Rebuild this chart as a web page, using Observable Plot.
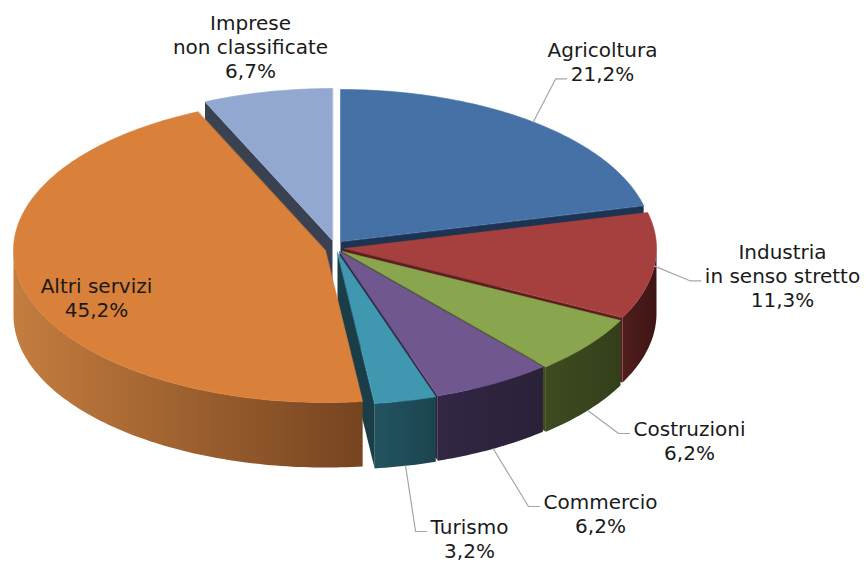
<!DOCTYPE html>
<html>
<head>
<meta charset="utf-8">
<script src="https://cdn.jsdelivr.net/npm/d3@7"></script>
<script src="https://cdn.jsdelivr.net/npm/@observablehq/plot@0.6"></script>
<style>
  html, body { margin: 0; padding: 0; background: #ffffff; }
  #chart { width: 867px; height: 563px; }
</style>
</head>
<body>
<div id="chart"></div>
<script>
// ---------------- DATA ----------------
const categories = ["Agricoltura", "Industria in senso stretto", "Costruzioni", "Commercio", "Turismo", "Altri servizi", "Imprese non classificate"];
const labelLines = [["Agricoltura"], ["Industria", "in senso stretto"], ["Costruzioni"], ["Commercio"], ["Turismo"], ["Altri servizi"], ["Imprese", "non classificate"]];
const shares = [21.2, 11.3, 6.2, 6.2, 3.2, 45.2, 6.7];
const valueLabels = ["21,2%", "11,3%", "6,2%", "6,2%", "3,2%", "45,2%", "6,7%"];

// ---------------- STYLE / LAYOUT ----------------
const topColors  = ["#4571a7", "#a6403e", "#89a54d", "#705790", "#3f97b0", "#d9803b", "#93a8d0"];
const sideColors = [["#2a4a78", "#1f3a60"], ["#4f1d1c", "#3e1615"], ["#3e4b20", "#333f1a"], ["#322744", "#2a2139"], ["#225460", "#1b4450"], ["#c47d3f", "#764420"], ["#4a5670", "#3a4458"]];
const wallColors = ["#1c3352", "#5a1f1d", "#3d4c1f", "#2f2442", "#1a3d48", "#8a5026", "#3a4151"];

const W = 867, H = 563;
const CX = 340, CY = 252, RX = 312, RY = 152, DEPTH = 65;
const explodeOffset = [[0, -11], [4, -4], [2, -1], [-1, -1], [-3, 0], [-15, -2], [-8, -12]];
const labelPos = [[602, 56], [782, 258], [689, 435], [600, 508], [469, 533], [96, 292], [250, 29]]; // centre x, first baseline
const LINE_H = 24.3;
const FONT_SIZE = 20;
const FONT = "DejaVu Sans";
// leader: [line index to attach to, "top" | "bottom" rim] or null
const leaderSpec = [[1, "top"], [1, "top"], [0, "bottom"], [0, "bottom"], [0, "bottom"], null, null];

// ---------------- GEOMETRY ----------------
const TAU = Math.PI * 2;
const slices = [];
{
  let acc = 0;
  shares.forEach((s, i) => {
    const a0 = acc / 100 * TAU; acc += s;
    const a1 = acc / 100 * TAU;
    slices.push({ i, a0, a1 });
  });
}
function P(i, a, r, z) {
  const [ox, oy] = explodeOffset[i];
  return [CX + ox + r * RX * Math.sin(a), CY + oy - r * RY * Math.cos(a) + z];
}
function arc(i, a0, a1, z) {
  const n = Math.max(2, Math.ceil(Math.abs(a1 - a0) / (Math.PI / 180)));
  const pts = [];
  for (let k = 0; k <= n; k++) pts.push(P(i, a0 + (a1 - a0) * k / n, 1, z));
  return pts;
}

const sideFaces = [];
const topFaces = [];
slices.forEach(({ i, a0, a1 }) => {
  // outer curved wall (front facing part)
  const b0 = Math.max(a0, Math.PI / 2), b1 = Math.min(a1, 3 * Math.PI / 2);
  if (b1 > b0) {
    const top = arc(i, b0, b1, 0), bot = arc(i, b1, b0, DEPTH);
    sideFaces.push({ pts: top.concat(bot), fill: `url(#side${i})`, key: d3.mean(top, p => p[1]) });
  }
  // radial walls
  const wall = (a) => {
    const c0 = P(i, a, 0, 0), r0 = P(i, a, 1, 0), r1 = P(i, a, 1, DEPTH), c1 = P(i, a, 0, DEPTH);
    sideFaces.push({ pts: [c0, r0, r1, c1], fill: wallColors[i], key: (c0[1] + r0[1]) / 2 });
  };
  if (Math.sin(a0) < -1e-6) wall(a0);
  if (Math.sin(a1) > 1e-6) wall(a1);
  // top face
  topFaces.push({ pts: [P(i, 0, 0, 0)].concat(arc(i, a0, a1, 0)), fill: topColors[i] });
});
sideFaces.sort((a, b) => a.key - b.key);

// ---------------- LABELS ----------------
const ctx = document.createElement("canvas").getContext("2d");
ctx.font = `${FONT_SIZE}px "${FONT}"`;
const textRows = [];
const leaders = [];
labelLines.forEach((lines, i) => {
  const all = lines.concat([valueLabels[i]]);
  const [lx, ly] = labelPos[i];
  all.forEach((t, k) => textRows.push({ x: lx, y: ly + k * LINE_H, text: t }));
  const spec = leaderSpec[i];
  if (spec) {
    const [k, rim] = spec;
    const { a0, a1 } = slices[i];
    const mid = (a0 + a1) / 2;
    const start = P(i, mid, 1, rim === "top" ? 0 : DEPTH);
    const w = ctx.measureText(all[k]).width;
    const yL = ly + k * LINE_H - 2;
    const endX = lx - w / 2 - 4;
    leaders.push({ id: i, x: start[0], y: start[1] });
    leaders.push({ id: i, x: endX - 11, y: yL });
    leaders.push({ id: i, x: endX, y: yL });
  }
});

// ---------------- PLOT ----------------
const faceMark = (f, stroke) => Plot.line(f.pts, {
  x: d => d[0], y: d => d[1], curve: "linear-closed",
  fill: f.fill, stroke: stroke ? f.fill : "none", strokeWidth: stroke ? 0.6 : 0
});

const chart = Plot.plot({
  width: W, height: H, margin: 0,
  x: { domain: [0, W], range: [0, W], axis: null },
  y: { domain: [0, H], range: [0, H], axis: null },
  style: { background: "#ffffff", fontFamily: FONT, overflow: "visible" },
  marks: [
    ...sideFaces.map(f => faceMark(f, false)),
    ...topFaces.map(f => faceMark(f, true)),
    Plot.line(leaders, { x: "x", y: "y", z: "id", stroke: "#a6a6a6", strokeWidth: 1.2, curve: "linear" }),
    Plot.text(textRows, { x: "x", y: "y", text: "text", textAnchor: "middle", lineAnchor: "bottom", fontSize: FONT_SIZE, fill: "#1a1a1a", fontFamily: FONT })
  ]
});

// gradients for the outer walls
const defs = d3.select(chart).insert("defs", ":first-child");
sideColors.forEach((c, i) => {
  const g = defs.append("linearGradient").attr("id", `side${i}`).attr("x1", 0).attr("x2", 1).attr("y1", 0).attr("y2", 0);
  g.append("stop").attr("offset", "0%").attr("stop-color", c[0]);
  g.append("stop").attr("offset", "100%").attr("stop-color", c[1]);
});

document.getElementById("chart").appendChild(chart);
</script>
</body>
</html>
